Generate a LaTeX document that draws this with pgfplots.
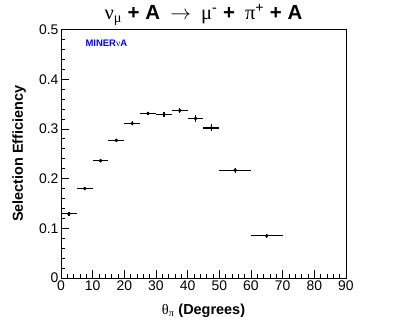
\documentclass[border=0pt]{standalone}
\usepackage{fontspec}
\setmainfont{Liberation Sans}
\newfontfamily\symf{Liberation Serif}
\usepackage{pgfplots}
\pgfplotsset{compat=1.18}

\usepackage{pgfplotstable}
% theta bin centre, efficiency, half bin width, stat error
\pgfplotstableread{
x     y      ex   ey
2.5   0.129  2.5  0.004
7.5   0.180  2.5  0.003
12.5  0.236  2.5  0.003
17.5  0.277  2.5  0.003
22.5  0.311  2.5  0.004
27.5  0.331  2.5  0.004
32.5  0.329  2.5  0.005
37.5  0.337  2.5  0.006
42.5  0.321  2.5  0.007
47.5  0.302  2.5  0.007
55.0  0.217  5.0  0.005
65.0  0.085  5.0  0.004
}\effdata

\begin{document}
\begin{tikzpicture}
\useasboundingbox (-61bp,-50bp) rectangle (346bp,278bp);
\begin{axis}[
  scale only axis,
  width=285bp, height=248.5bp,
  xmin=0, xmax=90, ymin=0, ymax=0.5,
  xtick={0,10,...,90},
  ytick={0,0.1,...,0.5},
  minor x tick num=4,
  minor y tick num=4,
  tick align=inside,
  xtick pos=bottom, ytick pos=left,
  major tick length=8bp, minor tick length=4.5bp,
  axis line style={black, line width=0.8bp},
  tick style={black, line width=0.7bp},
  ticklabel style={font=\fontsize{14}{16}\selectfont},
  xticklabel style={yshift=1bp},
  yticklabel style={xshift=1bp},
  /pgf/number format/assume math mode=true,
  yticklabel={\pgfmathprintnumber[fixed,precision=1]{\tick}},
  xlabel={{\symf θ}\textsubscript{\symf π} \textbf{(Degrees)}},
  ylabel={\textbf{Selection Efficiency}},
  xlabel style={font=\fontsize{14.5}{16}\selectfont, at={(axis description cs:0.5,-0.145)}, anchor=base},
  ylabel style={font=\fontsize{14.5}{16}\selectfont, at={(axis description cs:-0.147,0.5)}, anchor=center},
  every axis title shift=0pt,
  title={{\symf ν}\textsubscript{\symf μ} \textbf{+ A}\enspace$\rightarrow$\enspace{\symf μ}\textsuperscript{-} \textbf{+}\enspace{\symf π}\textsuperscript{+} \textbf{+ A}},
  title style={font=\fontsize{20.5}{23}\selectfont, at={(axis description cs:0.5,1.0395)}, anchor=base},
  clip=false,
]
\addplot[black, only marks, mark=*, mark size=1.6bp,
  error bars/.cd, x dir=both, x explicit, y dir=both, y explicit,
  error mark=none, error bar style={line width=1.2bp, black}]
  table[x=x, y=y, x error=ex, y error=ey] {\effdata};
\node[anchor=base west, text=blue, font=\fontsize{9.5}{11}\selectfont]
  at (rel axis cs:0.0737,0.9336) {\textbf{MINER}{\symf ν}\textbf{A}};
\end{axis}
\end{tikzpicture}
\end{document}
